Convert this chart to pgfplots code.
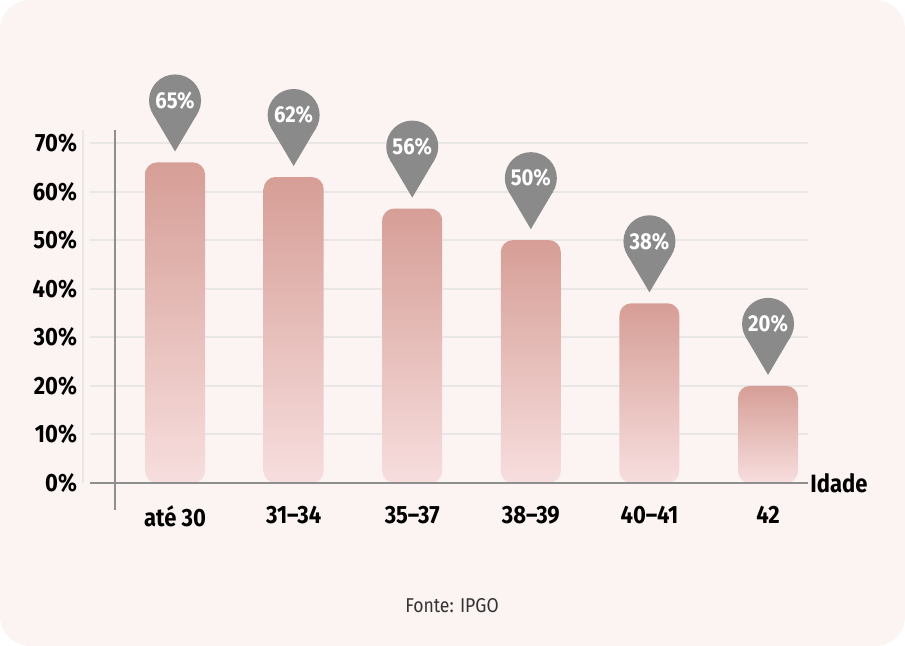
\documentclass[border=0pt]{standalone}
\usepackage{pgfplots}
\pgfplotsset{compat=1.18}
\usepackage{fontspec}
\setmainfont{Fira Sans}[FakeStretch=0.88]
\definecolor{bg}{HTML}{FCF3F3}
\definecolor{pin}{HTML}{8A8A8A}
\definecolor{bartop}{HTML}{D69E96}
\definecolor{barbot}{HTML}{F7DEDE}
\definecolor{gridc}{HTML}{E9E6E6}
\definecolor{axc}{HTML}{8E8E8E}
\pgfdeclareplotmark{pin}{%
  \pgfpathcircle{\pgfpoint{0pt}{31pt}}{13pt}%
  \pgfusepathqfill
  \pgfpathmoveto{\pgfpoint{0pt}{5.5pt}}%
  \pgfpathlineto{\pgfpoint{11.17pt}{24.4pt}}%
  \pgfpathlineto{\pgfpoint{-11.17pt}{24.4pt}}%
  \pgfpathclose
  \pgfusepathqfill}
\newcommand{\lblfont}{\fontsize{12.5}{14}\selectfont\bfseries}
\newcommand{\pinfont}{\fontsize{11.5}{13}\selectfont\bfseries}
\begin{document}
\begin{tikzpicture}
\useasboundingbox (0,0) rectangle (452.5pt,323pt);
\fill[white] (0,0) rectangle (452.5pt,323pt);
\fill[bg, rounded corners=15pt] (0,0) rectangle (452.5pt,323pt);
\begin{axis}[
  at={(45pt,81.5pt)}, anchor=south west,
  scale only axis, width=359pt, height=170pt,
  xmin=-0.717, xmax=5.337, ymin=0, ymax=70,
  clip=false,
  axis line style={draw=none},
  tick style={draw=none},
  ytick={0,10,...,70},
  yticklabels={0\%,10\%,20\%,30\%,40\%,50\%,60\%,70\%},
  xtick={0,...,5},
  xticklabels={até 30,31--34,35--37,38--39,40--41,42},
  ymajorgrids, grid style={gridc, line width=1pt},
  ticklabel style={font=\lblfont, text=black},
  xticklabel style={yshift=-8pt},
  yticklabel style={xshift=-3pt},
]
\addplot[ybar, bar width=30pt, bar shift=0pt, draw=none, top color=bartop, bottom color=barbot, rounded corners=6pt] coordinates {(0,66)};
\addplot[ybar, bar width=30pt, bar shift=0pt, draw=none, top color=bartop, bottom color=barbot, rounded corners=6pt] coordinates {(1,63)};
\addplot[ybar, bar width=30pt, bar shift=0pt, draw=none, top color=bartop, bottom color=barbot, rounded corners=6pt] coordinates {(2,56.5)};
\addplot[ybar, bar width=30pt, bar shift=0pt, draw=none, top color=bartop, bottom color=barbot, rounded corners=6pt] coordinates {(3,50)};
\addplot[ybar, bar width=30pt, bar shift=0pt, draw=none, top color=bartop, bottom color=barbot, rounded corners=6pt] coordinates {(4,37)};
\addplot[ybar, bar width=30pt, bar shift=0pt, draw=none, top color=bartop, bottom color=barbot, rounded corners=6pt] coordinates {(5,20)};
\addplot[only marks, mark=pin, mark options={fill=pin, draw=none},
  point meta=explicit symbolic, nodes near coords,
  every node near coord/.append style={anchor=center, yshift=31pt, text=white, font=\pinfont, inner sep=0pt}]
  coordinates {(0,66)[65\%] (1,63)[62\%] (2,56.5)[56\%] (3,50)[50\%] (4,37)[38\%] (5,20)[20\%]};
\draw[gridc, line width=0.8pt] (axis cs:-0.776,0) -- (axis cs:-0.776,72.7);
\draw[axc, line width=1pt] (axis cs:-0.717,0) -- (axis cs:5.337,0);
\draw[axc, line width=1pt] (axis cs:-0.506,72.7) -- (axis cs:-0.506,-5.56);
\node[anchor=west, font=\lblfont, inner sep=1pt] at (axis cs:5.337,0) {Idade};
\end{axis}
\node[font=\fontsize{10}{12}\selectfont, text=black!80] at (226pt,20pt) {Fonte: IPGO};
\end{tikzpicture}
\end{document}
